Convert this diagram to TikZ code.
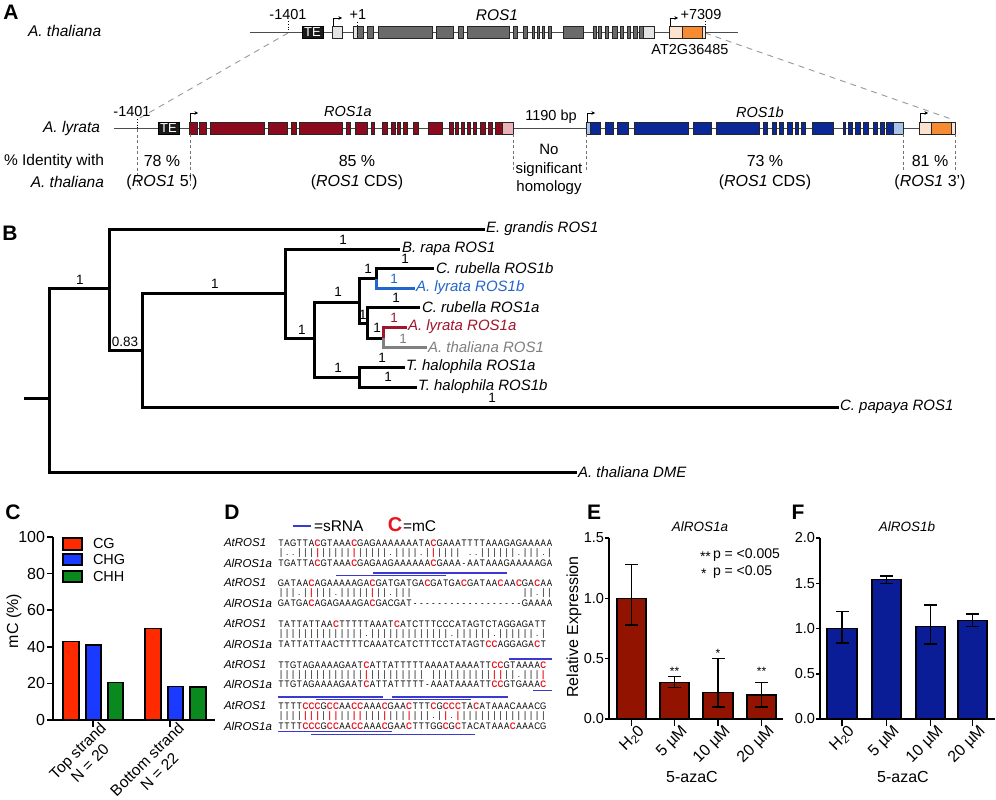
\documentclass[tikz,border=0pt]{standalone}
\usepackage{fontspec}
\setmainfont{Liberation Sans}
\newfontfamily\seqfont[FakeStretch=0.85]{Liberation Sans}
\usetikzlibrary{arrows.meta}

\definecolor{exgray}{HTML}{6A6A6A}
\definecolor{utrgray}{HTML}{E3E3E3}
\definecolor{rosred}{HTML}{8B0A1E}
\definecolor{utrpink}{HTML}{E9B3B8}
\definecolor{rosblue}{HTML}{0A2896}
\definecolor{utrblue}{HTML}{A9C4EA}
\definecolor{peach}{HTML}{FDE3CF}
\definecolor{orangeb}{HTML}{F68B32}
\definecolor{treeblue}{HTML}{2266CC}
\definecolor{treered}{HTML}{A0152D}
\definecolor{treegray}{HTML}{808080}
\definecolor{cgred}{HTML}{FF2A00}
\definecolor{chgblue}{HTML}{1A3AFF}
\definecolor{chhgreen}{HTML}{0A8A1E}
\definecolor{mcred}{HTML}{E8141E}
\definecolor{srnablue}{HTML}{3A3AD0}
\definecolor{ebar}{HTML}{921300}
\definecolor{fbar}{HTML}{0B1D96}

\newcommand\seqrow[1]{\seqloop#1\relax}
\def\seqloop#1{\ifx\relax#1\else\seqch{#1}\expandafter\seqloop\fi}
\def\seqch#1{\makebox[6.1pt]{\if c#1\textcolor{mcred}{\bfseries C}\else\if r#1\textcolor{mcred}{\bfseries |}\else\if o#1\else #1\fi\fi\fi}}

\newcommand\exonrow[4]{\foreach \a/\b in {#4} {\draw[exon,fill=#1] (\a,#2-#3) rectangle (\b,#2+#3);}}

\tikzset{
  every node/.style={inner sep=0pt, outer sep=0pt},
  genel/.style={line width=0.9pt, draw=black!70},
  exon/.style={line width=0.6pt, draw=black!85},
  tss/.style={line width=0.8pt, -{Stealth[length=3.5pt,width=3.5pt]}},
  guide/.style={draw=black!55, line width=0.8pt, dash pattern=on 3pt off 2.5pt},
  zoomline/.style={draw=black!40, line width=0.9pt, dash pattern=on 6pt off 5pt},
  marker/.style={line width=0.8pt, dotted},
  txtA/.style={font=\fontsize{16}{19}\selectfont},
  txtS/.style={font=\fontsize{14.5}{17}\selectfont},
  itA/.style={font=\fontsize{15.5}{18}\selectfont\itshape},
  itS/.style={font=\fontsize{14.5}{17}\selectfont\itshape},
  panel/.style={font=\fontsize{21}{24}\selectfont\bfseries},
  br/.style={line width=3pt, line cap=rect},
  bs/.style={font=\fontsize{13.5}{15}\selectfont},
  leaf/.style={font=\fontsize{15}{17}\selectfont\itshape, anchor=west},
  axis/.style={line width=1.5pt},
  tick/.style={font=\fontsize{16}{19}\selectfont},
  ytick/.style={font=\fontsize{14.5}{17}\selectfont, anchor=east},
  ctick/.style={font=\fontsize{16}{19}\selectfont},
  cbar/.style={line width=1.3pt, draw=black},
  seqlbl/.style={font=\fontsize{11.5}{13}\selectfont\itshape, anchor=west},
  seqtxt/.style={font=\seqfont\fontsize{9.5}{11}\selectfont, anchor=west},
  srna/.style={draw=srnablue, line width=1.1pt},
  errst/.style={line width=1.4pt},
}

\begin{document}
\begin{tikzpicture}[x=1pt,y=-1pt]
\useasboundingbox (0,0) rectangle (996,800);
\fill[white] (0,0) rectangle (996,800);

% ================= Panel A =================
\node[panel] (pA) at (11,12) {A};
\node[itA, anchor=west] (athal) at (28,31) {A. thaliana};
\draw[zoomline] (288,33) -- (138,119);
\draw[zoomline] (705,33) -- (954,120);
\draw[genel] (250,32) -- (738,32);
\draw[marker] (288,21) -- (288,32);
\node[txtS] (m1401t) at (288,15) {-1401};
\draw[fill=black!90, draw=black] (302,26) rectangle (323,38);
\node[white, font=\fontsize{13}{14}\selectfont] (te1) at (312.5,32.3) {TE};
\exonrow{utrgray}{32}{6}{332/342,353/357,643/654}
\exonrow{exgray}{32}{6}{357/363,367/373,378/432,436/453,458/463,467/509,513/517,523/527,532/534,537/539,542/544,548/551,563/583,593/596,598/601,605/608,612/617,620/623,627/630,633/637,639/643}
\exonrow{peach}{32}{6}{669/682,702/705}
\exonrow{orangeb}{32}{6}{682/702}
\draw[tss] (333,26) -- (333,18) -- (342,18);
\draw[tss] (670,26) -- (670,18) -- (678,18);
\draw[marker] (357,22) -- (357,38);
\draw[marker] (705,21) -- (705,27);
\node[txtS] (p1) at (358,15) {+1};
\node[itA] (ros1) at (497,15) {ROS1};
\node[txtS] (p7309) at (701,15) {+7309};
\node[txtS] (at2g) at (690,50) {AT2G36485};

% A. lyrata
\node[itA, anchor=east] (alyr) at (100,128) {A. lyrata};
\draw[genel] (114,128) -- (955,128);
\draw[marker] (137,119) -- (137,128);
\node[txtS] (m1401l) at (132,112) {-1401};
\draw[fill=black!90, draw=black] (158,122) rectangle (179,134);
\node[white, font=\fontsize{13}{14}\selectfont] (te2) at (168.5,128.3) {TE};
\exonrow{rosred}{128}{6}{189/197,199/206,210/264,268/287,291/296,299/342,346/350,355/367,371/374,382/387,391/395,397/400,403/407,413/418,428/442,449/453,455/458,461/464,467/470,473/476,480/485,488/492,495/502}
\exonrow{utrpink}{128}{6}{502/513}
\exonrow{utrblue}{128}{6}{586/590,893/903}
\exonrow{rosblue}{128}{6}{590/600,605/613,617/628,634/688,693/711,716/759,763/767,772/776,779/783,787/792,795/798,801/805,812/833,843/845,848/852,855/860,863/868,873/877,880/884,886/893}
\exonrow{peach}{128}{6}{919/931,951/955}
\exonrow{orangeb}{128}{6}{931/951}
\draw[tss] (190,122) -- (190,113) -- (198,113);
\draw[tss] (587,122) -- (587,113) -- (595,113);
\draw[tss] (920,122) -- (920,113) -- (928,113);
\node[itS] (ros1a) at (348,112) {ROS1a};
\node[itS] (ros1b) at (760,112) {ROS1b};
\node[txtS] (bp) at (551,117) {1190 bp};
\draw[guide] (137,129) -- (137,186);
\draw[guide] (190,134) -- (190,186);
\foreach \x in {513,586,903,955} {\draw[guide] (\x,134) -- (\x,171);}

\node[font=\fontsize{15.5}{18}\selectfont, anchor=east] (ident1) at (104,161) {\% Identity with};
\node[font=\fontsize{15.5}{18}\selectfont\itshape, anchor=east] (ident2) at (104,182) {A. thaliana};
\node[txtA] (pc78) at (162,161) {78 \%};
\node[txtA] (pc78b) at (162,182) {(\textit{ROS1} 5')};
\node[txtA] (pc85) at (357,161) {85 \%};
\node[txtA] (pc85b) at (357,182) {(\textit{ROS1} CDS)};
\node[font=\fontsize{15}{18.5}\selectfont, align=center] (nosig) at (549,169.5) {No\\significant\\homology};
\node[txtA] (pc73) at (765,161) {73 \%};
\node[txtA] (pc73b) at (765,182) {(\textit{ROS1} CDS)};
\node[txtA] (pc81) at (930,161) {81 \%};
\node[txtA] (pc81b) at (930,182) {(\textit{ROS1} 3')};

% ================= Panel B =================
\node[panel] (pB) at (10,233) {B};
\draw[br] (25,398) -- (49,398);
\draw[br] (49,288) -- (49,472);
\draw[br] (49,288) -- (109,288);
\draw[br] (49,472) -- (575,472);
\draw[br] (109,229) -- (109,350);
\draw[br] (109,229) -- (483,229);
\draw[br] (109,350) -- (142,350);
\draw[br] (142,293) -- (142,407);
\draw[br] (142,407) -- (837,407);
\draw[br] (142,293) -- (285,293);
\draw[br] (285,249) -- (285,338);
\draw[br] (285,249) -- (398,249);
\draw[br] (285,338) -- (314,338);
\draw[br] (314,302) -- (314,377);
\draw[br] (314,302) -- (359,302);
\draw[br] (359,278) -- (359,323);
\draw[br] (359,278) -- (376,278);
\draw[br] (376,268) -- (376,278);
\draw[br] (376,268) -- (432,268);
\draw[br, treeblue] (376,280) -- (376,288) -- (413,288);
\draw[br] (359,323) -- (367,323);
\draw[br] (367,307) -- (367,338);
\draw[br] (367,307) -- (418,307);
\draw[br] (367,338) -- (383,338);
\draw[br, treered] (383,337) -- (383,327) -- (405,327);
\draw[br, treegray] (383,339) -- (383,347) -- (425,347);
\draw[br] (314,377) -- (359,377);
\draw[br] (359,367) -- (359,387);
\draw[br] (359,367) -- (403,367);
\draw[br] (359,387) -- (415,387);

\node[bs] (s1) at (80,280) {1};
\node[bs] (s2) at (125,342) {0.83};
\node[bs] (s3) at (492,398) {1};
\node[bs] (s4) at (215,284) {1};
\node[bs] (s5) at (343,240) {1};
\node[bs] (s6) at (302,330) {1};
\node[bs] (s7) at (338,292) {1};
\node[bs] (s8) at (368,269) {1};
\node[bs] (s9) at (405,259) {1};
\node[bs, treeblue] (s10) at (394,279) {1};
\node[bs] (s11) at (363,315) {1};
\node[bs] (s12) at (396,298) {1};
\node[bs] (s13) at (377,328) {1};
\node[bs, treered] (s14) at (394,318) {1};
\node[bs, treegray] (s15) at (403,339) {1};
\node[bs] (s16) at (338,368) {1};
\node[bs] (s17) at (382,358) {1};
\node[bs] (s18) at (388,377) {1};

\node[leaf] (l1) at (486,229) {E. grandis ROS1};
\node[leaf] (l2) at (402,249) {B. rapa ROS1};
\node[leaf] (l3) at (436,268) {C. rubella ROS1b};
\node[leaf, treeblue] (l4) at (416,288) {A. lyrata ROS1b};
\node[leaf] (l5) at (422,307) {C. rubella ROS1a};
\node[leaf, treered] (l6) at (408,327) {A. lyrata ROS1a};
\node[leaf, treegray] (l7) at (428,347) {A. thaliana ROS1};
\node[leaf] (l8) at (406,367) {T. halophila ROS1a};
\node[leaf] (l9) at (418,387) {T. halophila ROS1b};
\node[leaf] (l10) at (840,407) {C. papaya ROS1};
\node[leaf] (l11) at (578,472) {A. thaliana DME};

% ================= Panel C =================
\node[panel] (pC) at (13,512) {C};
\draw[cbar, fill=cgred] (63,720) rectangle (79,720-1.83*43);
\draw[cbar, fill=chgblue] (86,720) rectangle (101,720-1.83*41);
\draw[cbar, fill=chhgreen] (108,720) rectangle (123,720-1.83*20.5);
\draw[cbar, fill=cgred] (145,720) rectangle (161,720-1.83*50);
\draw[cbar, fill=chgblue] (168,720) rectangle (183,720-1.83*18.5);
\draw[cbar, fill=chhgreen] (190,720) rectangle (206,720-1.83*18);
\draw[axis] (53,537) -- (53,720) -- (215,720);
\foreach \v in {0,20,40,60,80,100} {
  \draw[axis] (47,720-1.83*\v) -- (53,720-1.83*\v);
  \node[ctick, anchor=east] (cy\v) at (45,720-1.83*\v) {\v};
}
\draw[axis] (93,720) -- (93,727);
\draw[axis] (170,720) -- (170,727);
\node[ctick, rotate=90] (cyl) at (14,621) {mC (\%)};
\node[font=\fontsize{15.5}{17.5}\selectfont, rotate=45, anchor=north east, align=center] (cx1) at (99,721) {Top strand\\N = 20};
\node[font=\fontsize{15.5}{17.5}\selectfont, rotate=45, anchor=north east, align=center] (cx2) at (177,721) {Bottom strand\\N = 22};
\draw[cbar, fill=cgred] (63,538) rectangle (82,550);
\draw[cbar, fill=chgblue] (63,554) rectangle (82,565);
\draw[cbar, fill=chhgreen] (63,571) rectangle (82,582);
\node[font=\fontsize{14.5}{17}\selectfont, anchor=west] (lg1) at (93,544) {CG};
\node[font=\fontsize{14.5}{17}\selectfont, anchor=west] (lg2) at (93,560) {CHG};
\node[font=\fontsize{14.5}{17}\selectfont, anchor=west] (lg3) at (93,577) {CHH};

% ================= Panel D =================
\node[panel] (pD) at (232,512) {D};
\draw[srna] (293,526) -- (311,526);
\node[font=\fontsize{15.5}{18}\selectfont, anchor=west] (lgs) at (314,526) {=sRNA};
\node[font=\fontsize{20}{22}\selectfont\bfseries, text=mcred] (lgc) at (395,525) {C};
\node[font=\fontsize{15.5}{18}\selectfont, anchor=west] (lgm) at (403,526) {=mC};

\node[seqlbl] (d1a) at (224,543) {AtROS1};
\node[seqlbl] (d1b) at (224,563) {AlROS1a};
\node[seqtxt] (q1a) at (278,543) {\seqrow{TAGTTAcGTAAAcGAGAAAAAAATAcGAAATTTTAAAGAGAAAAA}};
\node[seqtxt] (q1m) at (278,553) {\seqrow{|..|||r|||||r|||||.||||.|r||||o..||||||.|||.|}};
\node[seqtxt] (q1b) at (278,563) {\seqrow{TGATTAcGTAAAcGAGAAGAAAAAAcGAAA-AATAAAGAAAAAGA}};

\draw[srna] (373,573) -- (507,573);
\draw[srna] (336,575.5) -- (446,575.5);
\node[seqlbl] (d2a) at (224,583) {AtROS1};
\node[seqlbl] (d2b) at (224,603) {AlROS1a};
\node[seqtxt] (q2a) at (278,583) {\seqrow{GATAAcAGAAAAAGAcGATGATGAcGATGAcGATAAcAAcGAcAA}};
\node[seqtxt] (q2m) at (278,593) {\seqrow{|||.|r|||.|||||r||.|||oooooooooooooooooo||.||}};
\node[seqtxt] (q2b) at (278,603) {\seqrow{GATGAcAGAGAAAGAcGACGAT------------------GAAAA}};

\node[seqlbl] (d3a) at (224,624) {AtROS1};
\node[seqlbl] (d3b) at (224,644) {AlROS1a};
\node[seqtxt] (q3a) at (278,624) {\seqrow{TATTATTAAcTTTTTAAATcATCTTTCCCATAGTCTAGGAGATT}};
\node[seqtxt] (q3m) at (278,634) {\seqrow{||||||||||||||.|||||||||||||.||||||.||||||.|}};
\node[seqtxt] (q3b) at (278,644) {\seqrow{TATTATTAACTTTTCAAATCATCTTTCCTATAGTccAGGAGAcT}};

\draw[srna] (509,659) -- (552,659);
\node[seqlbl] (d4a) at (224,665) {AtROS1};
\node[seqlbl] (d4b) at (224,684) {AlROS1a};
\node[seqtxt] (q4a) at (278,665) {\seqrow{TTGTAGAAAAGAATcATTATTTTTAAAATAAAATTccGTAAAAc}};
\node[seqtxt] (q4m) at (278,675) {\seqrow{||||||||||||||r|||||||||o||||||||||rr||.|||r}};
\node[seqtxt] (q4b) at (278,684) {\seqrow{TTGTAGAAAAGAATcATTATTTTT-AAATAAAATTccGTGAAAc}};
\draw[srna] (533,690.5) -- (552,690.5);

\draw[srna] (278,697) -- (383,697);
\draw[srna] (392,697) -- (508,697);
\draw[srna] (316,699.5) -- (471,699.5);
\node[seqlbl] (d5a) at (224,706) {AtROS1};
\node[seqlbl] (d5b) at (224,726) {AlROS1a};
\node[seqtxt] (q5a) at (278,706) {\seqrow{TTTTcccGccAAccAAAcGAAcTTTcGcccTAcATAAACAAACG}};
\node[seqtxt] (q5m) at (278,716) {\seqrow{||||rrr|rr||rr|||r|||r|||.|r.r||||||||||||||}};
\node[seqtxt] (q5b) at (278,726) {\seqrow{TTTTcccGccAAccAAAcGAAcTTTGGcGcTACATAAAcAAACG}};
\draw[srna] (278,731.5) -- (392,731.5);
\draw[srna] (311,734.5) -- (475,734.5);

% ================= Panel E =================
\node[panel] (pE) at (594,512) {E};
\node[font=\fontsize{13.5}{16}\selectfont\itshape] (eti) at (700,527) {AlROS1a};
\draw[cbar, fill=ebar] (617,719) rectangle (646,719-120.7*1.0);
\draw[cbar, fill=ebar] (660,719) rectangle (689,719-120.7*0.3);
\draw[cbar, fill=ebar] (703,719) rectangle (733,719-120.7*0.22);
\draw[cbar, fill=ebar] (747,719) rectangle (776,719-120.7*0.2);
\foreach \x/\lo/\hi in {631.5/0.78/1.28, 674.5/0.26/0.35, 718/0.10/0.50, 761.5/0.10/0.30} {
  \draw[errst] (\x,719-120.7*\lo) -- (\x,719-120.7*\hi);
  \draw[errst] (\x-6.5,719-120.7*\lo) -- (\x+6.5,719-120.7*\lo);
  \draw[errst] (\x-6.5,719-120.7*\hi) -- (\x+6.5,719-120.7*\hi);
}
\draw[axis] (609,538) -- (609,719) -- (783,719);
\foreach \v/\t in {0/0.0,0.5/0.5,1/1.0,1.5/1.5} {
  \draw[axis] (605,719-120.7*\v) -- (609,719-120.7*\v);
  \node[ytick] at (604,719-120.7*\v) {\t};
}
\foreach \x in {631.5,674.5,718,761.5} {\draw[axis] (\x,719) -- (\x,726);}
\node[font=\fontsize{12}{14}\selectfont] (st1) at (674.5,671) {**};
\node[font=\fontsize{12}{14}\selectfont] (st2) at (718,653) {*};
\node[font=\fontsize{12}{14}\selectfont] (st3) at (761.5,671) {**};
\node[font=\fontsize{14}{16}\selectfont, anchor=west] (pv1s) at (700,557) {**};
\node[font=\fontsize{14}{16}\selectfont, anchor=west] (pv1) at (713,555) {p = <0.005};
\node[font=\fontsize{14}{16}\selectfont, anchor=west] (pv2s) at (701,574) {*};
\node[font=\fontsize{14}{16}\selectfont, anchor=west] (pv2) at (713,572) {p = <0.05};
\node[tick, rotate=90] (eyl) at (574,627) {Relative Expression};
\node[tick, rotate=45, anchor=north east] (ex1) at (637,724) {H\textsubscript{2}0};
\node[tick, rotate=45, anchor=north east] (ex2) at (680,724) {5 µM};
\node[tick, rotate=45, anchor=north east] (ex3) at (723,724) {10 µM};
\node[tick, rotate=45, anchor=north east] (ex4) at (767,724) {20 µM};
\node[tick] (exl) at (692,777) {5-azaC};

% ================= Panel F =================
\node[panel] (pF) at (798,512) {F};
\node[font=\fontsize{13.5}{16}\selectfont\itshape] (fti) at (907,527) {AlROS1b};
\draw[cbar, fill=fbar] (827,719) rectangle (857,719-90.5*1.0);
\draw[cbar, fill=fbar] (872,719) rectangle (901,719-90.5*1.54);
\draw[cbar, fill=fbar] (916,719) rectangle (945,719-90.5*1.02);
\draw[cbar, fill=fbar] (958,719) rectangle (987,719-90.5*1.09);
\foreach \x/\lo/\hi in {842/0.84/1.19, 886.5/1.50/1.58, 930.5/0.83/1.26, 972.5/1.02/1.16} {
  \draw[errst] (\x,719-90.5*\lo) -- (\x,719-90.5*\hi);
  \draw[errst] (\x-6.5,719-90.5*\lo) -- (\x+6.5,719-90.5*\lo);
  \draw[errst] (\x-6.5,719-90.5*\hi) -- (\x+6.5,719-90.5*\hi);
}
\draw[axis] (820,538) -- (820,719) -- (995,719);
\foreach \v/\t in {0/0.0,0.5/0.5,1/1.0,1.5/1.5,2/2.0} {
  \draw[axis] (816,719-90.5*\v) -- (820,719-90.5*\v);
  \node[ytick] at (815,719-90.5*\v) {\t};
}
\foreach \x in {842,886.5,930.5,972.5} {\draw[axis] (\x,719) -- (\x,726);}
\node[tick, rotate=45, anchor=north east] (fx1) at (847,724) {H\textsubscript{2}0};
\node[tick, rotate=45, anchor=north east] (fx2) at (892,724) {5 µM};
\node[tick, rotate=45, anchor=north east] (fx3) at (936,724) {10 µM};
\node[tick, rotate=45, anchor=north east] (fx4) at (978,724) {20 µM};
\node[tick] (fxl) at (903,777) {5-azaC};

\end{tikzpicture}
\end{document}
